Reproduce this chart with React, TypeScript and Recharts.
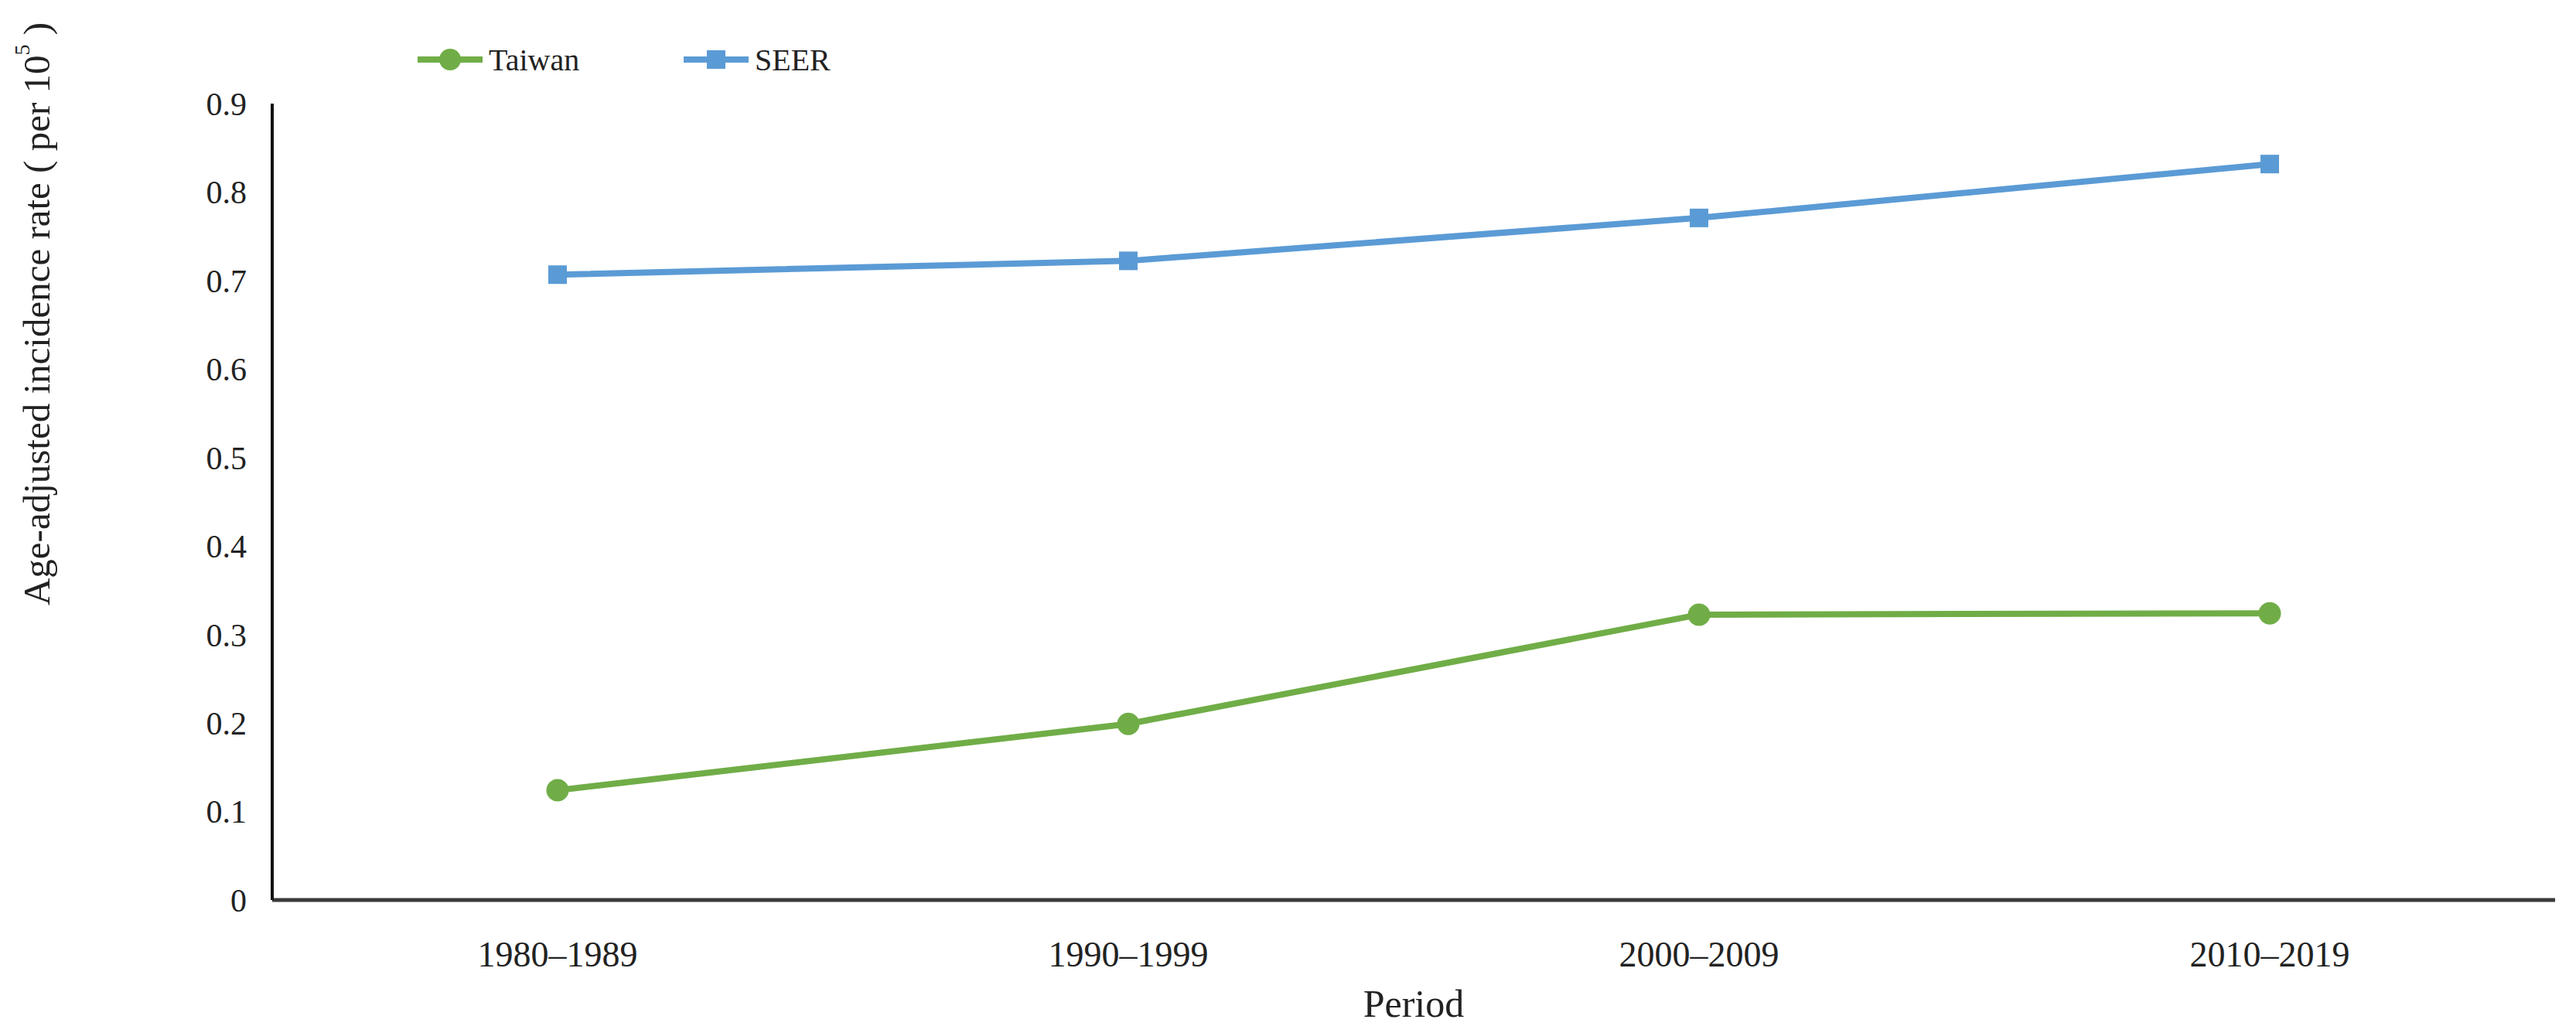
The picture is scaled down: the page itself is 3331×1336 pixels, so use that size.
import { LineChart, Line, XAxis, YAxis, Legend } from "recharts";

const periods = ["1980–1989", "1990–1999", "2000–2009", "2010–2019"];
const taiwan = [0.124, 0.199, 0.3225, 0.324];
const seer = [0.7067, 0.7223, 0.7708, 0.8317];
const yTicks = [0, 0.1, 0.2, 0.3, 0.4, 0.5, 0.6, 0.7, 0.8, 0.9];
const legendOrder = ["Taiwan", "SEER"];

const data = periods.map((period, i) => ({ period, taiwan: taiwan[i], seer: seer[i] }));

const FONT = "'Liberation Serif', 'Times New Roman', serif";
const GREEN = "#70AD47";
const BLUE = "#5B9BD5";

function SquareDot(props: any) {
    const { cx, cy, fill } = props;
    if (cx == null || cy == null) return null;
    return <rect x={cx - 12} y={cy - 12} width={24} height={24} fill={fill} />;
}

function YLabel() {
    return (
        <text
            transform="translate(39, 398) rotate(-90)"
            textAnchor="middle"
            dominantBaseline="central"
            fontFamily={FONT}
            fontSize={49}
            fill="#222"
        >
            Age-adjusted incidence rate ( per 10
            <tspan fontSize={28} dy={-19}>5</tspan>
            <tspan dy={19}> )</tspan>
        </text>
    );
}

function LegendContent({ payload }: any) {
    const offsets = [532, 876];
    const items = [...(payload || [])].sort(
        (a: any, b: any) => legendOrder.indexOf(a.value) - legendOrder.indexOf(b.value)
    );
    return (
        <svg width={1200} height={60} style={{ overflow: "visible" }}>
            {items.map((item: any, i: number) => {
                const x0 = offsets[i];
                const cx = x0 + 42;
                return (
                    <g key={item.value}>
                        <line x1={x0} y1={30} x2={x0 + 84} y2={30} stroke={item.color} strokeWidth={8} />
                        {item.value === "Taiwan" ? (
                            <circle cx={cx} cy={30} r={14} fill={item.color} />
                        ) : (
                            <rect x={cx - 12} y={18} width={24} height={24} fill={item.color} />
                        )}
                        <text x={x0 + 92} y={30} dominantBaseline="central" fontFamily={FONT} fontSize={40} fill="#222">
                            {item.value}
                        </text>
                    </g>
                );
            })}
        </svg>
    );
}

export default function App() {
    return (
        <div style={{ width: 3315, height: 1320, position: "relative", background: "#fff" }}>
            <LineChart width={3315} height={1320} data={data} margin={{ top: 62, right: 19, bottom: 0, left: 10 }}>
                <XAxis
                    dataKey="period"
                    height={164}
                    padding={{ left: 369, right: 369 }}
                    tickLine={false}
                    tickSize={0}
                    tickMargin={53}
                    axisLine={{ stroke: "#3a3a3a", strokeWidth: 5 }}
                    tick={{ fontFamily: FONT, fontSize: 46, fill: "#222" }}
                    interval={0}
                    label={{ value: "Period", position: "insideBottom", offset: 13, fontFamily: FONT, fontSize: 50, fill: "#222" }}
                />
                <YAxis
                    width={334}
                    domain={[0, 0.9]}
                    ticks={yTicks}
                    interval={0}
                    tickLine={false}
                    tickSize={0}
                    tickMargin={33}
                    axisLine={{ stroke: "#111", strokeWidth: 4 }}
                    tick={{ fontFamily: FONT, fontSize: 42, fill: "#222" }}
                    label={<YLabel />}
                />
                <Legend
                    verticalAlign="top"
                    align="left"
                    content={<LegendContent />}
                    wrapperStyle={{ position: "absolute", top: 39, left: 0, width: 1200 }}
                />
                <Line
                    name="Taiwan"
                    dataKey="taiwan"
                    stroke={GREEN}
                    strokeWidth={8}
                    dot={{ r: 14.5, fill: GREEN, stroke: "none" }}
                    isAnimationActive={false}
                />
                <Line
                    name="SEER"
                    dataKey="seer"
                    stroke={BLUE}
                    strokeWidth={8}
                    dot={<SquareDot fill={BLUE} />}
                    isAnimationActive={false}
                />
            </LineChart>
        </div>
    );
}
